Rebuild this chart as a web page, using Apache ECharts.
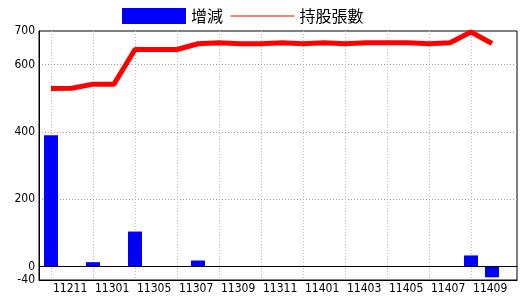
<!DOCTYPE html>
<html>
<head>
<meta charset="utf-8">
<script src="https://cdn.jsdelivr.net/npm/echarts@6/dist/echarts.min.js"></script>
<style>html,body{margin:0;padding:0;background:#fff}#c{width:520px;height:300px}</style>
</head>
<body>
<div id="c"></div>
<script>
var categories = ['11211','11212','11301','11303','11305','11306','11307','11308','11309','11310','11311','11312','11401','11402','11403','11404','11405','11406','11407','11408','11409','11410'];
var changeValues = [390, 0, 13, 0, 104, 0, 0, 18, 0, 0, 0, 0, 0, 0, 0, 0, 0, 0, 0, 0, 33, -32];
var holdingValues = [529, 530, 542, 542, 645, 645, 645, 662, 665, 662, 662, 665, 662, 665, 662, 665, 665, 665, 662, 665, 697, 663];
var yTickLabels = [-40, 200, 400, 600, 700];
var yZeroLabel = 0;
var yGridValues = [200, 400, 600];
var xLabelIndexes = [0, 2, 4, 6, 8, 10, 12, 14, 16, 18, 20];

var labelFont = "'DejaVu Sans Condensed','Liberation Sans',sans-serif";
var cjkFont = "'Noto Sans CJK TC','Noto Sans CJK SC',sans-serif";

var chart = echarts.init(document.getElementById('c'), null, {renderer: 'canvas'});
chart.setOption({
  animation: false,
  backgroundColor: '#fff',
  legend: {
    left: 122, top: 8, padding: 0,
    itemWidth: 64, itemHeight: 16, itemGap: 7,
    textStyle: {fontFamily: cjkFont, fontSize: 16, color: '#000'},
    data: [
      {name: '增減', icon: 'rect', itemStyle: {color: '#0000ff'}},
      {name: '持股張數', lineStyle: {width: 1, color: '#ff0000'}, itemStyle: {opacity: 0}}
    ]
  },
  grid: {
    left: 39, right: 3, top: 31, bottom: 20,
    show: true, borderColor: '#000', borderWidth: 1, backgroundColor: 'transparent',
    containLabel: false
  },
  xAxis: {
    type: 'value',
    min: -0.571, max: 22.19,
    axisLine: {show: true, onZero: false, lineStyle: {color: '#000', width: 1}},
    axisTick: {show: false, customValues: xLabelIndexes},
    splitLine: {show: true, lineStyle: {color: '#a8bccd', type: [1, 2], width: 1}},
    axisLabel: {
      customValues: xLabelIndexes,
      formatter: function (v) { return categories[v]; },
      align: 'left', padding: [0, 0, 0, 2], margin: 3,
      hideOverlap: false,
      fontFamily: labelFont, fontSize: 12, color: '#000'
    }
  },
  yAxis: {
    type: 'value',
    min: -40, max: 700,
    axisLine: {show: true, onZero: false, lineStyle: {color: '#000', width: 1}},
    axisTick: {show: false, customValues: yGridValues},
    splitLine: {show: true, lineStyle: {color: '#999999', type: [1, 2], width: 1}},
    axisLabel: {
      customValues: yTickLabels,
      margin: 4,
      hideOverlap: false,
      showMinLabel: true,
      fontFamily: labelFont, fontSize: 12, color: '#000'
    }
  },
  series: [
    {
      name: '增減', type: 'bar',
      data: changeValues.map(function (v, i) { return [i, v]; }),
      barWidth: 14,
      itemStyle: {color: '#0000ff'},
      markLine: {
        silent: true, symbol: 'none',
        label: {
          show: true, position: 'start', distance: 4,
          formatter: String(yZeroLabel),
          fontFamily: labelFont, fontSize: 12, color: '#000'
        },
        lineStyle: {color: '#000', type: 'solid', width: 1},
        data: [{yAxis: yZeroLabel}]
      }
    },
    {
      name: '持股張數', type: 'line',
      data: holdingValues.map(function (v, i) { return [i, v]; }),
      symbol: 'none',
      lineStyle: {color: '#ff0000', width: 5},
      itemStyle: {color: '#ff0000'}
    }
  ]
});
</script>
</body>
</html>
